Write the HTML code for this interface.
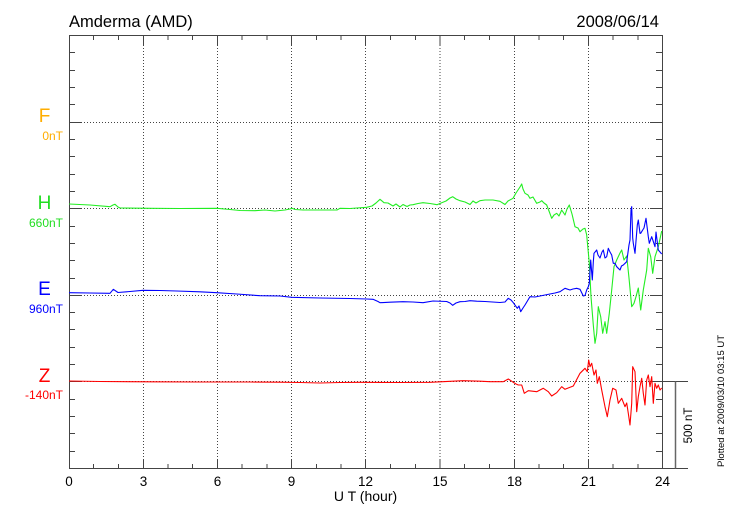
<!DOCTYPE html>
<html><head><meta charset="utf-8"><style>
html,body{margin:0;padding:0;background:#fff;}
svg{display:block;font-family:"Liberation Sans",Arial,sans-serif;}
</style></head><body>
<svg width="730" height="520" viewBox="0 0 730 520" xmlns="http://www.w3.org/2000/svg">
<rect width="730" height="520" fill="#fff"/>
<!-- title -->
<text x="69" y="27" font-size="16.5" fill="#000">Amderma (AMD)</text>
<text x="659" y="27" font-size="16.5" fill="#000" text-anchor="end">2008/06/14</text>

<!-- dotted grid -->
<g stroke="#444" stroke-width="1" stroke-dasharray="1 2" fill="none">
<path d="M143.5 36V468M217.5 36V468M291.5 36V468M365.5 36V468M440 36V468M514.5 36V468M588.5 36V468"/>
<path d="M69 122.5H662M69 208.5H662M69 295.5H662M69 381.5H662"/>
</g>

<!-- frame -->
<g stroke="#444" stroke-width="1" fill="none">
<path d="M69.5 35.5V468.5M69 35.5H663M662.5 35.5V468.5M69 468.5H688"/>
<path d="M662 381.5H688"/>
<!-- left ticks -->
<path d="M69 52.5h6M69 70.5h6M69 87.5h6M69 104.5h6M69 122.5h12M69 139.5h6M69 156.5h6M69 174.5h6M69 191.5h6M69 208.5h12M69 226.5h6M69 243.5h6M69 260.5h6M69 278.5h6M69 295.5h12M69 312.5h6M69 329.5h6M69 347.5h6M69 364.5h6M69 381.5h12M69 399.5h6M69 416.5h6M69 433.5h6M69 451.5h6M69 468.5h12M69 35.5h12"/>
<!-- right ticks -->
<path d="M662 52.5h-6M662 70.5h-6M662 87.5h-6M662 104.5h-6M662 122.5h-12M662 139.5h-6M662 156.5h-6M662 174.5h-6M662 191.5h-6M662 208.5h-12M662 226.5h-6M662 243.5h-6M662 260.5h-6M662 278.5h-6M662 295.5h-12M662 312.5h-6M662 329.5h-6M662 347.5h-6M662 364.5h-6M662 381.5h-12M662 399.5h-6M662 416.5h-6M662 433.5h-6M662 451.5h-6"/>
<!-- top ticks -->
<path d="M93.5 35v5M118.5 35v5M143.5 35v10M168 35v5M192.5 35v5M217.5 35v10M242 35v5M267 35v5M291.5 35v10M316.5 35v5M341 35v5M365.5 35v10M390.5 35v5M415.5 35v5M440 35v10M464.5 35v5M489.5 35v5M514.5 35v10M539 35v5M563.5 35v5M588.5 35v10M613 35v5M638 35v5"/>
<!-- bottom ticks -->
<path d="M93.5 469v-5M118.5 469v-5M143.5 469v-10M168 469v-5M192.5 469v-5M217.5 469v-10M242 469v-5M267 469v-5M291.5 469v-10M316.5 469v-5M341 469v-5M365.5 469v-10M390.5 469v-5M415.5 469v-5M440 469v-10M464.5 469v-5M489.5 469v-5M514.5 469v-10M539 469v-5M563.5 469v-5M588.5 469v-10M613 469v-5M638 469v-5"/>
</g>
<!-- scale bar -->
<path d="M675.5 381.5V468.5" stroke="#666" stroke-width="1.5"/>
<text transform="translate(692,425.5) rotate(-90)" font-size="11.5" text-anchor="middle" fill="#000">500 nT</text>
<text transform="translate(724,401) rotate(-90)" font-size="9.5" text-anchor="middle" fill="#000">Plotted at 2009/03/10 03:15 UT</text>

<!-- x tick labels -->
<g font-size="13.5" fill="#000" text-anchor="middle">
<text x="69" y="486">0</text>
<text x="143.5" y="486">3</text>
<text x="217.5" y="486">6</text>
<text x="291.5" y="486">9</text>
<text x="365.5" y="486">12</text>
<text x="440" y="486">15</text>
<text x="514.5" y="486">18</text>
<text x="588.5" y="486">21</text>
<text x="662.5" y="486">24</text>
</g>
<text x="365.5" y="501" font-size="14" text-anchor="middle" fill="#000">U T (hour)</text>

<!-- component labels -->
<g font-size="19" text-anchor="middle">
<text x="44.5" y="122" fill="#ffad00">F</text>
<text x="44.5" y="209" fill="#22dd22">H</text>
<text x="44.5" y="295" fill="#0000ff">E</text>
<text x="44.5" y="382" fill="#ff0000">Z</text>
</g>
<g font-size="12" text-anchor="end">
<text x="63" y="140" fill="#ffad00">0nT</text>
<text x="63" y="227" fill="#22dd22">660nT</text>
<text x="63" y="313" fill="#0000ff">960nT</text>
<text x="63" y="399" fill="#ff0000">-140nT</text>
</g>

<!-- series -->
<g fill="none" stroke-width="1.1" stroke-linejoin="round">
<polyline stroke="#22ee22" points="69,204 90,205 110,206.7 113,205 115,204.3 118,207 120,208 150,208.3 180,208.5 217,208.3 230,209.5 240,210.5 255,210.7 265,210 275,211 280,210.5 285,210 290,209 292,208.3 295,209.5 303,210 320,210 337,210 340,208.3 350,208.5 366.7,207.3 372,206 376,203 380,199.3 384,202.7 388,203 393,206 396,204 400,207 403,204.5 407,206.5 410,205 413,204.7 418,203.5 423,202.7 430,203.5 437,204.7 441.7,202.7 446,201 450,198 452.7,196.7 456,199 460,200.7 465,202 470,204.5 473,201 476,203 480,200.7 485,200 493,200 500,201.3 505,204.5 508,201 513,198.3 516,193 518,190 520,187 521.7,184 523,189 525,193.3 528,195 530,198.3 533,197 536.7,203.3 540,202 541.7,200.7 544,203 546.7,205 549,211 551.7,218.3 554,215 556.7,213.3 559,216 561.7,210 565,215 567,209 569.3,205 572,214 575,226.7 578,228 580,231.7 583,229 585,228.3 586.7,235 587.3,241.7 589.3,263 591,296.7 593.3,325 595,343.3 596.7,333.3 598.3,306.7 600.7,316.7 602.7,333.3 605,321.7 606.7,333.3 609.3,313.3 611.7,290 614,266.7 616.7,260 620,253 621.7,250 624,260 626.7,256 629,278 631.7,306.7 634,303.3 636,296.7 638.3,288 640.7,310 643.3,290 646.7,270 648.3,248.3 650.7,256.7 652.7,273.3 655,256.7 658.3,246.7 661.7,231"/>
<polyline stroke="#0000ff" points="69,292.7 90,293 110,293.3 113.3,289.3 118,292.5 130,291.5 143,290.3 160,290.5 176.7,291 200,291.8 216.7,292.7 236.7,294 260,295.7 280,296 291.7,297.3 320,298 350,298.5 366.7,299 373,299.3 378,301.5 380,302.7 390,302.2 403,301.7 413,302 423,302.7 433,301 446.7,301.5 450,303 452.7,305.3 456,303 460,301.7 465,301.5 470,300.7 476.7,301.2 485,301.5 500,302.5 505,302 508.3,298.3 511,300 513.3,302.7 517.3,308.3 519,306 520.7,311.7 523,308 525,305 528,300 530,296.7 535,297 540,296 545,295 550,294 555,293 560,291.7 565,288.3 570,290 573,289 576.7,288.3 580,289.3 583.3,296 585,295.5 586.7,290 588.3,286.7 589.3,283.3 590.7,260 592.3,280 593.3,262 594,253.3 596.7,250 598,255 600,258 602,252 603.3,250 605,258 606.7,256.7 608.3,248.3 610,252 611.7,255 613.3,263.3 615,263.3 616.7,266.7 618.3,268.3 620,270 621.5,266 623.3,265 626.7,261.7 629,245 630,240 631,210 631.7,206.7 632.7,238 633.3,243.3 635,253.3 637.3,225 638.3,220 640,233.3 640.7,233.3 642.7,230 644,228 646,218.3 648.3,236.7 649.3,243.3 651.7,236.7 655,246.7 656,232 657,240 658.3,250 660,252 661.7,254"/>
<polyline stroke="#ff0000" points="69,381 100,381.5 150,381.8 200,382 250,382 280,382.2 300,382.5 320,383 340,382.5 360,382.3 400,382.5 430,382.3 463,380.7 480,381.2 490,381.7 503.3,381.7 508.3,379 513.3,382.3 516,384 518.3,385 521.7,385 524.3,393.3 528.3,390.7 536.7,391.7 543.3,388.3 548.3,391.7 551.7,396 556.7,392.7 561.7,386.7 565,389.3 573.3,386 580,373.3 585,368.3 587.3,371.7 588.7,360 590,366.7 591.7,363.3 594,375 596,370 597.3,383.3 599.3,376.7 601.7,390 605,406.7 607.3,416.7 610,400 612.7,388.3 616,390 618.3,403.3 621.7,398.3 625,406.7 626.7,403 628.3,413.3 630,425 631.7,403.3 632.7,366.7 635,371.7 636.7,411.7 638.3,396.7 640,386.7 641.7,378.3 643.3,393.3 645,405 646.7,380 648.3,375 650,386.7 651.7,376.7 653.3,403.3 655,383.3 656.7,388.3 658.3,385 660,390 661.7,388"/>
</g>
</svg>
</body></html>
